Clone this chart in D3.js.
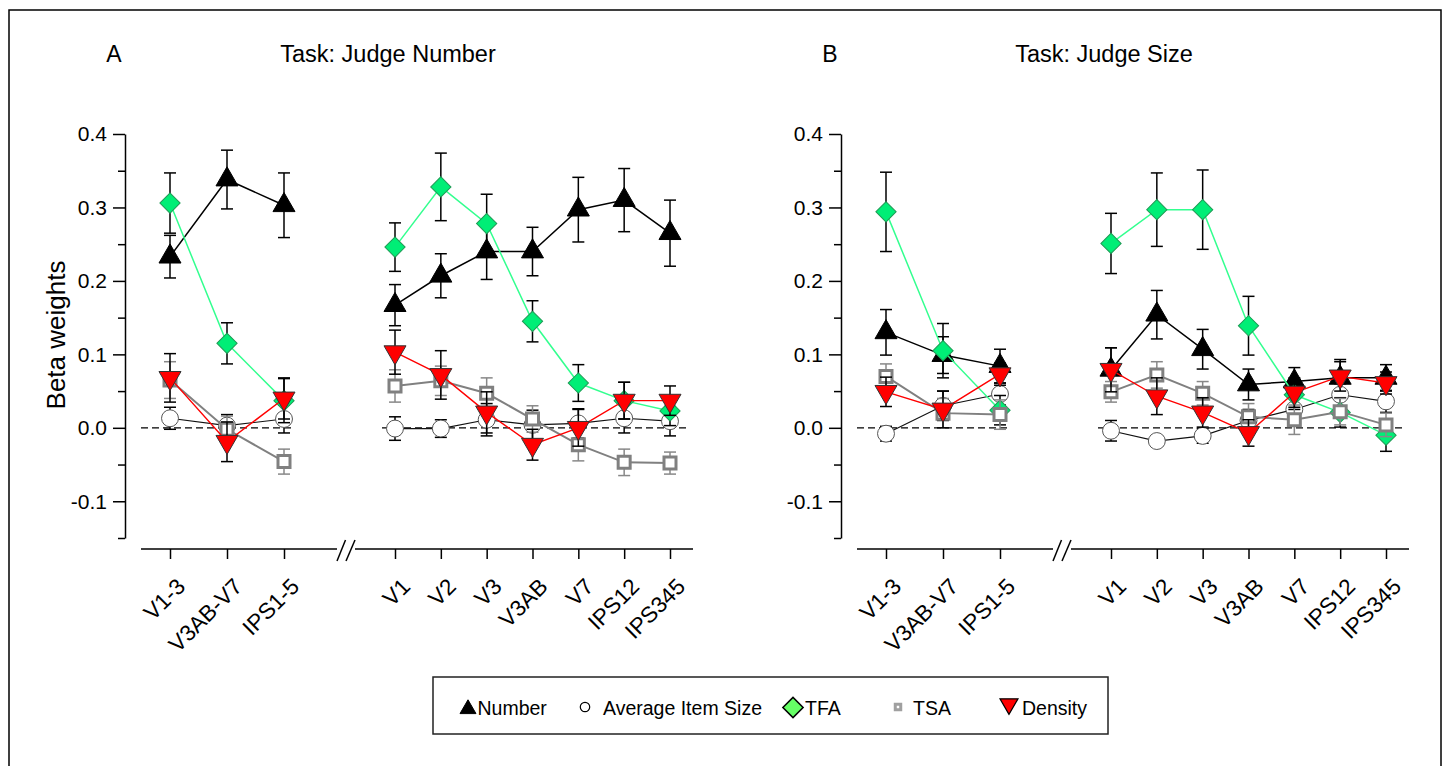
<!DOCTYPE html>
<html><head><meta charset="utf-8">
<script src="https://cdn.jsdelivr.net/npm/d3@7"></script>
<style>
body{margin:0;background:#fff;}
svg{display:block;font-family:"Liberation Sans",Arial,sans-serif;}
</style></head><body>
<svg id="chart" width="1446" height="766"></svg>
<script>
// ---------------- DATA ----------------
const leftRegions = ["V1-3","V3AB-V7","IPS1-5"];
const rightRegions = ["V1","V2","V3","V3AB","V7","IPS12","IPS345"];
const seriesNames = ["Number","Average Item Size","TFA","TSA","Density"];
const panelLetters = ["A","B"];
const panelTitles = ["Task: Judge Number","Task: Judge Size"];
const yMajorTicks = [-0.1,0,0.1,0.2,0.3,0.4];
const yTickLabels = ["-0.1","0.0","0.1","0.2","0.3","0.4"];
const yMinorTicks = [-0.15,-0.05,0.05,0.15,0.25,0.35];
const yLabel = "Beta weights";

// Panel A – Task: Judge Number (3 left regions, then 7 right regions)
const judgeNumber_Number     = [0.233,0.338,0.303, 0.167,0.207,0.240,0.240,0.297,0.310,0.265];
const judgeNumber_NumberErr  = [0.029,0.040,0.044, 0.028,0.030,0.038,0.033,0.044,0.043,0.045];
const judgeNumber_Size       = [0.013,0.003,0.012, -0.001,-0.001,0.011,0.004,0.006,0.013,0.009];
const judgeNumber_SizeErr    = [0.015,0.015,0.019, 0.016,0.012,0.022,0.020,0.020,0.020,0.020];
const judgeNumber_TFA        = [0.306,0.115,0.037, 0.246,0.328,0.278,0.145,0.061,0.037,0.023];
const judgeNumber_TFAErr     = [0.041,0.028,0.030, 0.033,0.046,0.040,0.028,0.025,0.025,0.020];
const judgeNumber_TSA        = [0.065,-0.002,-0.046, 0.057,0.064,0.047,0.012,-0.023,-0.047,-0.048];
const judgeNumber_TSAErr     = [0.025,0.018,0.017, 0.022,0.020,0.021,0.018,0.022,0.018,0.015];
const judgeNumber_Density    = [0.068,-0.019,0.040, 0.103,0.072,0.021,-0.023,0.000,0.037,0.037];
const judgeNumber_DensityErr = [0.033,0.027,0.028, 0.030,0.033,0.028,0.021,0.025,0.025,0.020];

// Panel B – Task: Judge Size
const judgeSize_Number     = [0.130,0.099,0.084, 0.079,0.154,0.107,0.059,0.063,0.068,0.068];
const judgeSize_NumberErr  = [0.031,0.025,0.023, 0.030,0.033,0.027,0.021,0.019,0.025,0.018];
const judgeSize_Size       = [-0.008,0.030,0.046, -0.004,-0.018,-0.011,0.010,0.025,0.045,0.036];
const judgeSize_SizeErr    = [0.010,0.020,0.015, 0.014,0.006,0.010,0.015,0.020,0.015,0.015];
const judgeSize_TFA        = [0.294,0.105,0.024, 0.251,0.297,0.297,0.139,0.045,0.021,-0.010];
const judgeSize_TFAErr     = [0.054,0.037,0.020, 0.041,0.050,0.054,0.040,0.020,0.020,0.022];
const judgeSize_TSA        = [0.070,0.020,0.018, 0.049,0.072,0.047,0.015,0.011,0.022,0.004];
const judgeSize_TSAErr     = [0.017,0.020,0.020, 0.014,0.018,0.016,0.018,0.020,0.018,0.016];
const judgeSize_Density    = [0.049,0.025,0.073, 0.079,0.043,0.021,-0.007,0.048,0.070,0.061];
const judgeSize_DensityErr = [0.020,0.025,0.015, 0.030,0.025,0.020,0.018,0.020,0.020,0.015];

// ---------------- BUILD ----------------
const panels = [
  {letter:panelLetters[0], title:panelTitles[0], off:0, showYLabel:true, series:{
    "Number":[judgeNumber_Number,judgeNumber_NumberErr],
    "Average Item Size":[judgeNumber_Size,judgeNumber_SizeErr],
    "TFA":[judgeNumber_TFA,judgeNumber_TFAErr],
    "TSA":[judgeNumber_TSA,judgeNumber_TSAErr],
    "Density":[judgeNumber_Density,judgeNumber_DensityErr]}},
  {letter:panelLetters[1], title:panelTitles[1], off:716, showYLabel:false, series:{
    "Number":[judgeSize_Number,judgeSize_NumberErr],
    "Average Item Size":[judgeSize_Size,judgeSize_SizeErr],
    "TFA":[judgeSize_TFA,judgeSize_TFAErr],
    "TSA":[judgeSize_TSA,judgeSize_TSAErr],
    "Density":[judgeSize_Density,judgeSize_DensityErr]}}
];

const style = {
  "Number":{sym:d3.symbolTriangle,size:210,rot:0,fill:"#000",stroke:"#000",sw:1,line:"#000",lw:1.5,err:"#000",
            lsize:110,lfill:"#000",lstroke:"#000",lsw:1},
  "Average Item Size":{sym:d3.symbolCircle,size:225,rot:0,fill:"#fff",stroke:"#555",sw:1,line:"#111",lw:1.2,err:"#000",
            lsize:70,lfill:"#fff",lstroke:"#000",lsw:1.2},
  "TFA":{sym:d3.symbolSquare,size:205,rot:45,fill:"#00ee76",stroke:"#1f9a55",sw:1,line:"#33ff8f",lw:1.5,err:"#000",
            lsize:205,lfill:"#66ff66",lstroke:"#000",lsw:1.5},
  "TSA":{sym:d3.symbolSquare,size:144,rot:0,fill:"#fff",stroke:"#808080",sw:3,line:"#808080",lw:2,err:"#888",
            lsize:30,lfill:"#fff",lstroke:"#a0a0a0",lsw:3},
  "Density":{sym:d3.symbolTriangle,size:210,rot:180,fill:"#ff0000",stroke:"#333",sw:1,line:"#ff0000",lw:1.4,err:"#000",
            lsize:140,lfill:"#ff0000",lstroke:"#000",lsw:1.2}
};
const drawOrder = ["Number","Average Item Size","TFA","TSA","Density"];

const svg = d3.select("#chart");
svg.append("rect").attr("x",9).attr("y",10).attr("width",1432).attr("height",800)
  .attr("fill","none").attr("stroke","#000").attr("stroke-width",1.5);

const y = d3.scaleLinear().domain([-0.15,0.4]).range([538,134]);
const xAxisY = 549;

panels.forEach(p => {
  const g = svg.append("g").attr("transform",`translate(${p.off},0)`);
  const xL = d3.scalePoint().domain(leftRegions).range([170,284]);
  const xR = d3.scalePoint().domain(rightRegions).range([395,670]);
  const yAxisX = 125;

  // titles
  g.append("text").attr("x",114).attr("y",62).attr("text-anchor","middle")
    .attr("font-size",23).text(p.letter);
  g.append("text").attr("x",388).attr("y",62).attr("text-anchor","middle")
    .attr("font-size",23.5).text(p.title);
  if (p.showYLabel) {
    g.append("text").attr("transform","translate(65,335) rotate(-90)")
      .attr("text-anchor","middle").attr("font-size",26).text(yLabel);
  }

  // y axis
  const yax = g.append("g").attr("transform",`translate(${yAxisX},0)`)
    .call(d3.axisLeft(y).tickValues(yMajorTicks).tickSize(12).tickSizeOuter(0).tickPadding(6)
      .tickFormat((d,i)=>yTickLabels[i]));
  yax.selectAll("text").attr("font-size",21).attr("fill","#000").attr("font-family",null);
  yax.selectAll("line,path").attr("stroke","#000").attr("stroke-width",1.5);
  const ymin = g.append("g").attr("transform",`translate(${yAxisX},0)`)
    .call(d3.axisLeft(y).tickValues(yMinorTicks).tickSize(7).tickSizeOuter(0).tickFormat(""));
  ymin.select(".domain").remove();
  ymin.selectAll("line").attr("stroke","#000").attr("stroke-width",1.5);

  // x axis line with break
  const axL0 = 141, axL1 = 337, axR0 = 355, axR1 = 693;
  g.append("line").attr("x1",axL0).attr("x2",axL1).attr("y1",xAxisY).attr("y2",xAxisY)
    .attr("stroke","#000").attr("stroke-width",1.5);
  g.append("line").attr("x1",axR0).attr("x2",axR1).attr("y1",xAxisY).attr("y2",xAxisY)
    .attr("stroke","#000").attr("stroke-width",1.5);
  [[337,345.5],[346,355]].forEach(([a,b]) => {
    g.append("line").attr("x1",a).attr("y1",561).attr("x2",b).attr("y2",540)
      .attr("stroke","#000").attr("stroke-width",1.5);
  });
  [xL,xR].forEach(sc => {
    const ax = g.append("g").attr("transform",`translate(0,${xAxisY})`)
      .call(d3.axisBottom(sc).tickSize(10).tickSizeOuter(0));
    ax.select(".domain").remove();
    ax.selectAll("line").attr("stroke","#000").attr("stroke-width",1.5);
    ax.selectAll("text").attr("x",null).attr("y",null).attr("dy",null)
      .attr("text-anchor","end").attr("font-size",22.5).attr("fill","#000").attr("font-family",null)
      .attr("transform","translate(16,39) rotate(-45)");
  });

  // zero dashed line
  [[axL0, xL(leftRegions[2])+9],[xR(rightRegions[0])-13, xR(rightRegions[6])+18]].forEach(([a,b]) => {
    g.append("line").attr("x1",a).attr("x2",b).attr("y1",y(0)).attr("y2",y(0))
      .attr("stroke","#000").attr("stroke-width",1.3).attr("stroke-dasharray","7,4");
  });

  // series
  drawOrder.forEach(name => {
    const st = style[name];
    const [vals, errs] = p.series[name];
    const pts = vals.map((v,i) => ({
      x: i < 3 ? xL(leftRegions[i]) : xR(rightRegions[i-3]),
      v, e: errs[i], grp: i < 3 ? 0 : 1
    }));
    const sg = g.append("g");
    const line = d3.line().x(d=>d.x).y(d=>y(d.v));
    [0,1].forEach(gr => {
      sg.append("path").attr("d", line(pts.filter(d=>d.grp===gr)))
        .attr("fill","none").attr("stroke",st.line).attr("stroke-width",st.lw);
    });
    const eb = sg.append("g").attr("stroke",st.err).attr("stroke-width",1.5);
    pts.forEach(d => {
      eb.append("line").attr("x1",d.x).attr("x2",d.x).attr("y1",y(d.v+d.e)).attr("y2",y(d.v-d.e));
      eb.append("line").attr("x1",d.x-6).attr("x2",d.x+6).attr("y1",y(d.v+d.e)).attr("y2",y(d.v+d.e));
      eb.append("line").attr("x1",d.x-6).attr("x2",d.x+6).attr("y1",y(d.v-d.e)).attr("y2",y(d.v-d.e));
    });
    const symPath = d3.symbol().type(st.sym).size(st.size)();
    sg.selectAll("path.mk").data(pts).join("path").attr("class","mk")
      .attr("d",symPath)
      .attr("transform",d=>`translate(${d.x},${y(d.v)}) rotate(${st.rot})`)
      .attr("fill",st.fill).attr("stroke",st.stroke).attr("stroke-width",st.sw);
  });
});

// legend
const lg = svg.append("g");
lg.append("rect").attr("x",433).attr("y",677).attr("width",675).attr("height",57)
  .attr("fill","none").attr("stroke","#222").attr("stroke-width",1.5);
const legendSymX = [468,585,793,898,1009];
const legendSymY = [709,707,707.5,707,704];
const legendTextX = [477.5,603,805,913,1022];
seriesNames.forEach((name,i) => {
  const st = style[name];
  lg.append("path").attr("d",d3.symbol().type(st.sym).size(st.lsize)())
    .attr("transform",`translate(${legendSymX[i]},${legendSymY[i]}) rotate(${st.rot})`)
    .attr("fill",st.lfill).attr("stroke",st.lstroke).attr("stroke-width",st.lsw);
  lg.append("text").attr("x",legendTextX[i]).attr("y",715).attr("font-size",19.5).text(name);
});
</script>
</body></html>
